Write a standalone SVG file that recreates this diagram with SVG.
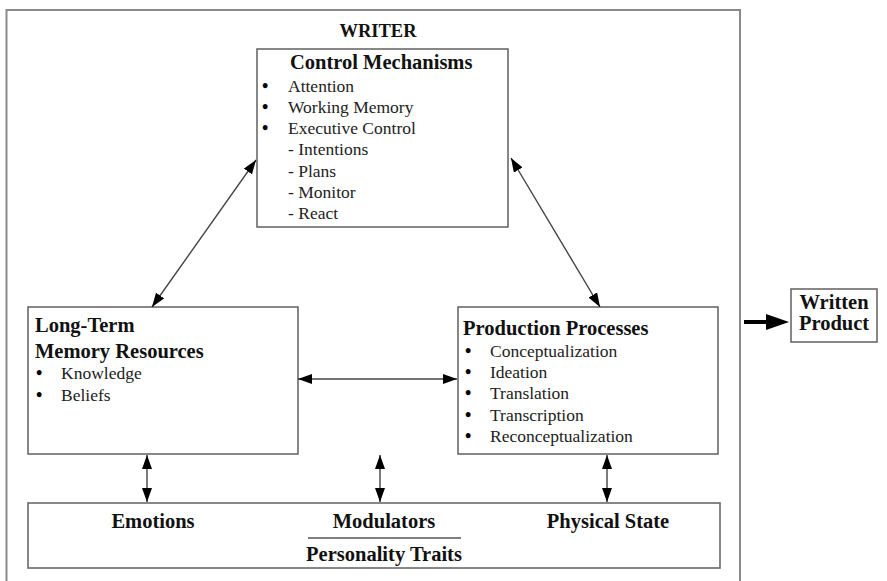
<svg xmlns="http://www.w3.org/2000/svg" width="887" height="581" viewBox="0 0 887 581">
<style>
.box{fill:#fff;stroke:#6a6a6a;stroke-width:1.6}
.outer{fill:none;stroke:#8a8a8a;stroke-width:2}
.t{font-family:"Liberation Serif","Times New Roman",serif;fill:#111}
.b{font-weight:bold;font-size:20.5px}
.i{font-size:17.5px;fill:#222}
.bl{font-size:18px;font-weight:bold;fill:#000}
.c{text-anchor:middle}
.conn{stroke:#444;stroke-width:1.4;fill:none;marker-start:url(#ah);marker-end:url(#ah)}
</style>
<defs>
<marker id="ah" markerUnits="userSpaceOnUse" markerWidth="14" markerHeight="10" refX="14" refY="5" orient="auto-start-reverse">
<path d="M0,0 L14,5 L0,10 z" fill="#000"/>
</marker>
</defs>
<rect width="887" height="581" fill="#fff"/>
<g id="writer">
<path class="outer" d="M6.5,600 V10 H740 V600"/>
<text class="t b c" x="378" y="37" style="font-size:18.5px">WRITER</text>
</g>
<g id="control">
<rect class="box" x="257" y="49" width="251" height="178"/>
<text class="t b" x="290" y="69">Control Mechanisms</text>
<g class="t i">
<text class="bl" x="262" y="92">•</text><text x="288" y="92">Attention</text>
<text class="bl" x="262" y="113">•</text><text x="288" y="113">Working Memory</text>
<text class="bl" x="262" y="134">•</text><text x="288" y="134">Executive Control</text>
<text x="288" y="155">- Intentions</text>
<text x="288" y="177">- Plans</text>
<text x="288" y="198">- Monitor</text>
<text x="288" y="219">- React</text>
</g>
</g>
<g id="longterm">
<rect class="box" x="28" y="307" width="270" height="147"/>
<text class="t b" x="35" y="332">Long-Term</text>
<text class="t b" x="35" y="358">Memory Resources</text>
<g class="t i">
<text class="bl" x="36" y="379">•</text><text x="61" y="379">Knowledge</text>
<text class="bl" x="36" y="401">•</text><text x="61" y="401">Beliefs</text>
</g>
</g>
<g id="production">
<rect class="box" x="458" y="307" width="260" height="147"/>
<text class="t b" x="463" y="335">Production Processes</text>
<g class="t i">
<text class="bl" x="465" y="357">•</text><text x="490" y="357">Conceptualization</text>
<text class="bl" x="465" y="378">•</text><text x="490" y="378">Ideation</text>
<text class="bl" x="465" y="399">•</text><text x="490" y="399">Translation</text>
<text class="bl" x="465" y="421">•</text><text x="490" y="421">Transcription</text>
<text class="bl" x="465" y="442">•</text><text x="490" y="442">Reconceptualization</text>
</g>
</g>
<g id="modulators">
<rect class="box" x="28" y="503" width="692" height="65"/>
<text class="t b c" x="153" y="528">Emotions</text>
<text class="t b c" x="384" y="528">Modulators</text>
<text class="t b c" x="608" y="528">Physical State</text>
<line x1="308" y1="538" x2="461" y2="538" stroke="#555" stroke-width="1.3"/>
<text class="t b c" x="384" y="561">Personality Traits</text>
</g>
<g id="product">
<rect class="box" x="791" y="289" width="86" height="53"/>
<text class="t b c" x="834" y="309">Written</text>
<text class="t b c" x="834" y="330">Product</text>
</g>
<g id="connectors">
<line class="conn" x1="152" y1="307" x2="256" y2="160"/>
<line class="conn" x1="600" y1="307" x2="511" y2="158"/>
<line class="conn" x1="298" y1="379" x2="457" y2="379"/>
<line class="conn" x1="147" y1="455" x2="147" y2="502"/>
<line class="conn" x1="380" y1="455" x2="380" y2="502"/>
<line class="conn" x1="607" y1="455" x2="607" y2="502"/>
<line x1="744" y1="322" x2="770" y2="322" stroke="#000" stroke-width="4"/>
<path d="M766,314 L789,322 L766,330 z" fill="#000"/>
</g>
</svg>
